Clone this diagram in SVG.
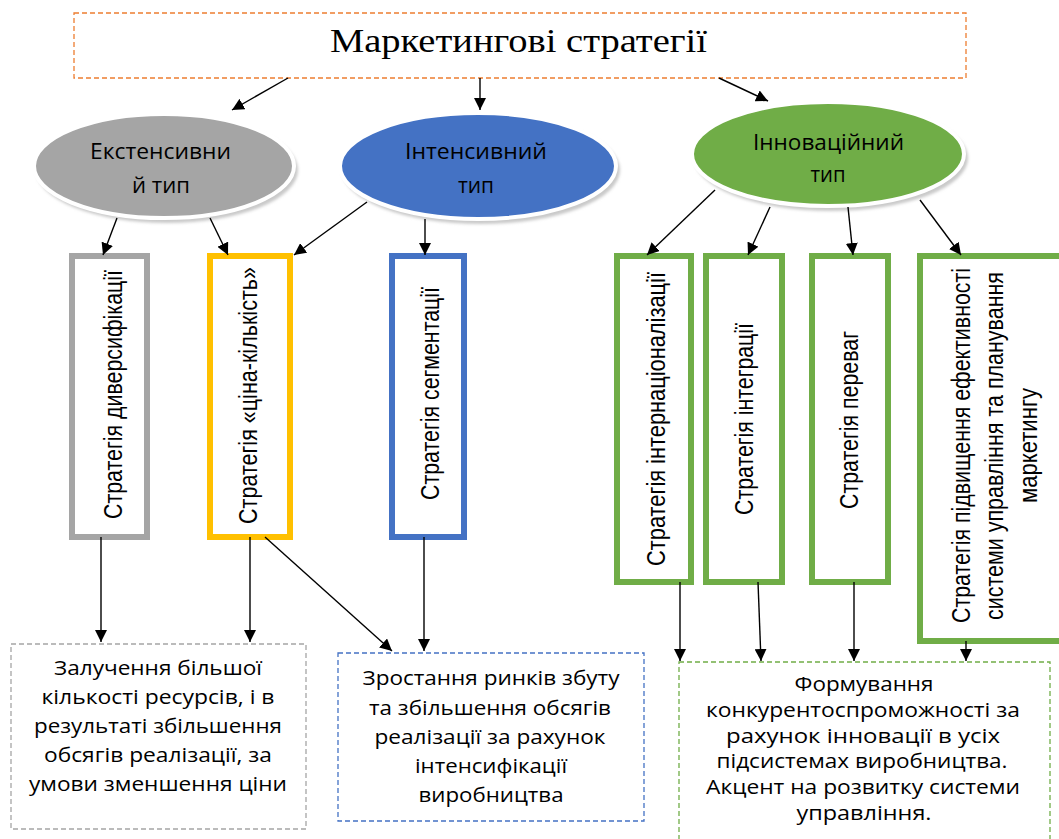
<svg xmlns="http://www.w3.org/2000/svg" width="1059" height="839" viewBox="0 0 1059 839">
<style>
.bg{fill:#ffffff}
.dash{fill:#ffffff;stroke-width:1.3;stroke-dasharray:5 3}
.vbox{fill:#ffffff;stroke-width:6}
.rim{stroke:#ffffff;stroke-width:4}
.shadow{fill:#c9c9c9}
.conn{stroke:#000000;stroke-width:1.4;fill:none;marker-end:url(#ah)}
.title{font-family:"Liberation Serif","Times New Roman",serif;font-size:33px;fill:#000}
.ell{font-family:"Open Sans","Noto Sans",sans-serif;font-size:21px;fill:#000;text-anchor:middle}
.vt{font-family:"Liberation Sans",Arial,sans-serif;font-size:26px;fill:#000;text-anchor:middle}
.bt{font-family:"Open Sans","Noto Sans",sans-serif;font-size:20px;fill:#000;text-anchor:middle}
</style>
<defs>
<marker id="ah" viewBox="0 0 10 10" refX="10" refY="5" markerWidth="12" markerHeight="12" markerUnits="userSpaceOnUse" orient="auto">
<path d="M0,0 L10,5 L0,10 z" fill="#000"/>
</marker>
<filter id="blur" x="-10%" y="-10%" width="120%" height="130%"><feGaussianBlur stdDeviation="1.5"/></filter>
</defs>
<rect class="bg" width="1059" height="839"/>

<g id="top">
<rect class="dash" x="74" y="13" width="892" height="65" style="stroke:#ed7d31"/>
<text class="title" x="330" y="52" textLength="377" lengthAdjust="spacingAndGlyphs">Маркетингові стратегії</text>
</g>

<g id="ext">
<ellipse class="shadow" cx="167" cy="170" rx="131" ry="53" filter="url(#blur)"/>
<ellipse class="rim" cx="164" cy="166" rx="130" ry="52" fill="#a5a5a5"/>
<text class="ell" x="160.5" y="159" textLength="141" lengthAdjust="spacingAndGlyphs">Екстенсивни</text>
<text class="ell" x="161" y="193" textLength="58" lengthAdjust="spacingAndGlyphs">й тип</text>
</g>

<g id="int">
<ellipse class="shadow" cx="481" cy="170" rx="139" ry="54" filter="url(#blur)"/>
<ellipse class="rim" cx="478" cy="166" rx="138" ry="53" fill="#4472c4"/>
<text class="ell" x="476" y="159" textLength="142" lengthAdjust="spacingAndGlyphs">Інтенсивний</text>
<text class="ell" x="476" y="193" textLength="36" lengthAdjust="spacingAndGlyphs">тип</text>
</g>

<g id="inn">
<ellipse class="shadow" cx="831" cy="158" rx="137" ry="53" filter="url(#blur)"/>
<ellipse class="rim" cx="828" cy="154" rx="136" ry="52" fill="#70ad47"/>
<text class="ell" x="828.5" y="150" textLength="151" lengthAdjust="spacingAndGlyphs">Інноваційний</text>
<text class="ell" x="828" y="182" textLength="35" lengthAdjust="spacingAndGlyphs">тип</text>
</g>

<g id="s-div">
<rect class="vbox" x="72" y="256" width="75" height="281" style="stroke:#a5a5a5"/>
<text class="vt" transform="translate(122,394.5) rotate(-90)" textLength="249" lengthAdjust="spacingAndGlyphs">Стратегія диверсифікації</text>
</g>

<g id="s-price">
<rect class="vbox" x="210" y="256" width="80" height="281" style="stroke:#ffc000"/>
<text class="vt" transform="translate(257,395.5) rotate(-90)" textLength="257" lengthAdjust="spacingAndGlyphs">Стратегія «ціна-кількість»</text>
</g>

<g id="s-seg">
<rect class="vbox" x="392" y="256" width="72" height="281" style="stroke:#4472c4"/>
<text class="vt" transform="translate(439,393.5) rotate(-90)" textLength="213" lengthAdjust="spacingAndGlyphs">Стратегія сегментації</text>
</g>

<g id="s-intl">
<rect class="vbox" x="617" y="256" width="74" height="326" style="stroke:#70ad47"/>
<text class="vt" transform="translate(665,419) rotate(-90)" textLength="294" lengthAdjust="spacingAndGlyphs">Стратегія інтернаціоналізації</text>
</g>

<g id="s-integ">
<rect class="vbox" x="706" y="256" width="76" height="326" style="stroke:#70ad47"/>
<text class="vt" transform="translate(753,419) rotate(-90)" textLength="192" lengthAdjust="spacingAndGlyphs">Стратегія інтеграції</text>
</g>

<g id="s-adv">
<rect class="vbox" x="812" y="256" width="76" height="326" style="stroke:#70ad47"/>
<text class="vt" transform="translate(858,420) rotate(-90)" textLength="178" lengthAdjust="spacingAndGlyphs">Стратегія переваг</text>
</g>

<g id="s-eff">
<rect class="vbox" x="920" y="256" width="150" height="385" style="stroke:#70ad47"/>
<text class="vt" transform="translate(970,445.5) rotate(-90)" textLength="355" lengthAdjust="spacingAndGlyphs">Стратегія підвищення ефективності</text>
<text class="vt" transform="translate(1003,446) rotate(-90)" textLength="348" lengthAdjust="spacingAndGlyphs">системи управління та планування</text>
<text class="vt" transform="translate(1037,445.5) rotate(-90)" textLength="115" lengthAdjust="spacingAndGlyphs">маркетингу</text>
</g>

<g id="r-ext">
<rect class="dash" x="11" y="644" width="295" height="185" style="stroke:#a5a5a5"/>
<text class="bt" x="158" y="675" textLength="208" lengthAdjust="spacingAndGlyphs">Залучення більшої</text>
<text class="bt" x="158" y="704" textLength="233" lengthAdjust="spacingAndGlyphs">кількості ресурсів, і в</text>
<text class="bt" x="158" y="733" textLength="248" lengthAdjust="spacingAndGlyphs">результаті збільшення</text>
<text class="bt" x="158" y="762" textLength="228" lengthAdjust="spacingAndGlyphs">обсягів реалізації, за</text>
<text class="bt" x="158" y="791" textLength="258" lengthAdjust="spacingAndGlyphs">умови зменшення ціни</text>
</g>

<g id="r-int">
<rect class="dash" x="338" y="653" width="306" height="168" style="stroke:#4472c4"/>
<text class="bt" x="491" y="685" textLength="257" lengthAdjust="spacingAndGlyphs">Зростання ринків збуту</text>
<text class="bt" x="490" y="715" textLength="242" lengthAdjust="spacingAndGlyphs">та збільшення обсягів</text>
<text class="bt" x="490" y="744" textLength="231" lengthAdjust="spacingAndGlyphs">реалізації за рахунок</text>
<text class="bt" x="491" y="773" textLength="152" lengthAdjust="spacingAndGlyphs">інтенсифікації</text>
<text class="bt" x="491" y="802" textLength="145" lengthAdjust="spacingAndGlyphs">виробництва</text>
</g>

<g id="r-inn">
<rect class="dash" x="679" y="662" width="371" height="190" style="stroke:#70ad47"/>
<text class="bt" x="864" y="691" textLength="139" lengthAdjust="spacingAndGlyphs">Формування</text>
<text class="bt" x="863" y="717" textLength="314" lengthAdjust="spacingAndGlyphs">конкурентоспроможності за</text>
<text class="bt" x="863" y="743" textLength="274" lengthAdjust="spacingAndGlyphs">рахунок інновації в усіх</text>
<text class="bt" x="862" y="768" textLength="291" lengthAdjust="spacingAndGlyphs">підсистемах виробництва.</text>
<text class="bt" x="863" y="794" textLength="314" lengthAdjust="spacingAndGlyphs">Акцент на розвитку системи</text>
<text class="bt" x="864" y="820" textLength="135" lengthAdjust="spacingAndGlyphs">управління.</text>
</g>

<g id="connectors">
<line class="conn" x1="288" y1="78" x2="232" y2="110"/>
<line class="conn" x1="480" y1="78" x2="480" y2="110"/>
<line class="conn" x1="719" y1="78" x2="768" y2="101"/>
<line class="conn" x1="117" y1="218" x2="103" y2="255"/>
<line class="conn" x1="210" y1="218" x2="228" y2="255"/>
<line class="conn" x1="367" y1="202" x2="294" y2="255"/>
<line class="conn" x1="425" y1="219" x2="425" y2="255"/>
<line class="conn" x1="715" y1="190" x2="647" y2="255"/>
<line class="conn" x1="770" y1="207" x2="748" y2="255"/>
<line class="conn" x1="848" y1="207" x2="853" y2="255"/>
<line class="conn" x1="920" y1="200" x2="961" y2="255"/>
<line class="conn" x1="101" y1="537" x2="101" y2="642"/>
<line class="conn" x1="250" y1="537" x2="250" y2="642"/>
<line class="conn" x1="265" y1="537" x2="392" y2="651"/>
<line class="conn" x1="424" y1="537" x2="424" y2="651"/>
<line class="conn" x1="680" y1="582" x2="680" y2="661"/>
<line class="conn" x1="758" y1="582" x2="761" y2="661"/>
<line class="conn" x1="854" y1="582" x2="854" y2="661"/>
<line class="conn" x1="966" y1="641" x2="966" y2="661"/>
</g>
</svg>
